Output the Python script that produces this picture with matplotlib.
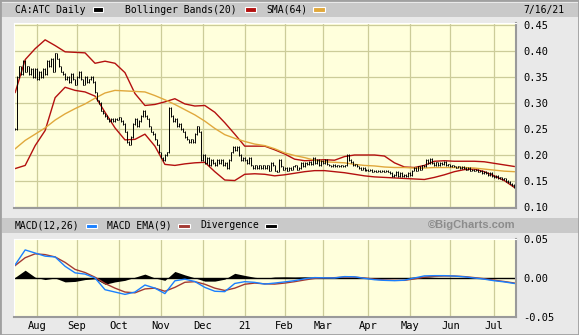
import numpy as np
import pandas as pd
import matplotlib
matplotlib.use('Agg')
import matplotlib.pyplot as plt
from matplotlib.patches import Rectangle

plt.rcParams['axes.unicode_minus'] = False

# trading days (TSX holidays removed)
holidays = ['2020-08-03', '2020-09-07', '2020-10-12', '2020-12-25', '2020-12-28',
            '2021-01-01', '2021-02-15', '2021-04-02', '2021-05-24', '2021-07-01']
dates = pd.bdate_range('2020-07-17', '2021-07-16')
dates = dates[~dates.isin(pd.to_datetime(holidays))]

# daily close
close = [
    0.25, 0.35, 0.37, 0.355, 0.38, 0.36, 0.37, 0.355, 0.365, 0.35,
    0.365, 0.345, 0.36, 0.35, 0.365, 0.355, 0.38, 0.37, 0.385, 0.36,
    0.395, 0.385, 0.37, 0.36, 0.355, 0.345, 0.35, 0.34, 0.355, 0.345,
    0.335, 0.35, 0.36, 0.345, 0.335, 0.35, 0.34, 0.345, 0.35, 0.34,
    0.32, 0.305, 0.30, 0.285, 0.28, 0.275, 0.27, 0.265, 0.27, 0.265,
    0.27, 0.268, 0.272, 0.265, 0.26, 0.245, 0.225, 0.22, 0.235, 0.26,
    0.27, 0.255, 0.265, 0.275, 0.285, 0.275, 0.27, 0.255, 0.245, 0.24,
    0.23, 0.22, 0.205, 0.195, 0.19, 0.2, 0.205, 0.29, 0.275, 0.265,
    0.27, 0.255, 0.26, 0.25, 0.245, 0.235, 0.23, 0.225, 0.23, 0.225,
    0.24, 0.255, 0.245, 0.19, 0.2, 0.185, 0.195, 0.18, 0.19, 0.185,
    0.18, 0.19, 0.185, 0.19, 0.18, 0.185, 0.175, 0.19, 0.205, 0.215,
    0.21, 0.215, 0.2, 0.19, 0.195, 0.19, 0.185, 0.195, 0.18, 0.175,
    0.18, 0.175, 0.18, 0.175, 0.18, 0.175, 0.18, 0.17, 0.185, 0.18,
    0.17, 0.168, 0.19, 0.178, 0.172, 0.175, 0.17, 0.175, 0.172, 0.178,
    0.18, 0.172, 0.175, 0.185, 0.178, 0.185, 0.182, 0.187, 0.183, 0.195,
    0.185, 0.19, 0.18, 0.188, 0.185, 0.19, 0.182, 0.18, 0.178, 0.181,
    0.178, 0.18, 0.178, 0.18, 0.178, 0.18, 0.2, 0.19, 0.187, 0.18,
    0.182, 0.178, 0.175, 0.172, 0.175, 0.17, 0.172, 0.17, 0.172, 0.168,
    0.17, 0.168, 0.17, 0.168, 0.17, 0.168, 0.17, 0.168, 0.165, 0.16,
    0.162, 0.168, 0.16, 0.165, 0.16, 0.162, 0.16, 0.165, 0.162, 0.17,
    0.175, 0.17, 0.178, 0.172, 0.18, 0.178, 0.19, 0.185, 0.193, 0.185,
    0.18, 0.186, 0.18, 0.185, 0.182, 0.187, 0.18, 0.182, 0.178, 0.18,
    0.178, 0.176, 0.178, 0.175, 0.177, 0.175, 0.172, 0.175, 0.17, 0.172,
    0.17, 0.172, 0.168, 0.17, 0.165, 0.168, 0.165, 0.162, 0.165, 0.16,
    0.158, 0.16, 0.155, 0.157, 0.153, 0.155, 0.15, 0.148, 0.145, 0.142,
    0.138,
]

# indicator values read every 5th trading day
bb_upper = [0.32, 0.383, 0.404, 0.421, 0.41, 0.398, 0.397, 0.396, 0.376, 0.38,
            0.376, 0.358, 0.318, 0.295, 0.297, 0.302, 0.308, 0.298, 0.294, 0.295,
            0.282, 0.262, 0.24, 0.217, 0.217, 0.217, 0.21, 0.202, 0.192, 0.189,
            0.19, 0.191, 0.19, 0.197, 0.2, 0.2, 0.2, 0.198, 0.185, 0.177,
            0.176, 0.18, 0.188, 0.189, 0.188, 0.188, 0.188, 0.187, 0.184, 0.181,
            0.178]
bb_lower = [0.174, 0.18, 0.218, 0.247, 0.31, 0.33, 0.324, 0.321, 0.313, 0.282,
            0.252, 0.229, 0.23, 0.24, 0.217, 0.182, 0.18, 0.183, 0.185, 0.186,
            0.168, 0.152, 0.151, 0.163, 0.164, 0.163, 0.16, 0.162, 0.165, 0.168,
            0.17, 0.17, 0.168, 0.166, 0.163, 0.16, 0.158, 0.157, 0.156, 0.155,
            0.154, 0.153, 0.157, 0.162, 0.168, 0.172, 0.173, 0.168, 0.16, 0.151,
            0.138]
sma64 = [0.212, 0.228, 0.24, 0.252, 0.267, 0.279, 0.289, 0.298, 0.309, 0.319,
         0.324, 0.323, 0.322, 0.321, 0.314, 0.306, 0.297, 0.287, 0.277, 0.265,
         0.251, 0.239, 0.232, 0.226, 0.221, 0.218, 0.212, 0.204, 0.199, 0.195,
         0.19, 0.187, 0.186, 0.185, 0.182, 0.18, 0.179, 0.177, 0.176, 0.176,
         0.175, 0.175, 0.176, 0.176, 0.176, 0.176, 0.175, 0.173, 0.171, 0.169,
         0.168]
macd = [0.017, 0.036, 0.032, 0.028, 0.027, 0.015, 0.0066, 0.005, 0.0, -0.015,
        -0.018, -0.021, -0.018, -0.009, -0.013, -0.02, -0.0036, -0.0015, -0.0045, -0.012,
        -0.017, -0.0175, -0.007, -0.0047, -0.0056, -0.0078, -0.0065, -0.005, -0.0034, -0.001,
        0.0005, 0.0002, 0.0, 0.0018, 0.0015, -0.0005, -0.0022, -0.003, -0.0034, -0.0028,
        0.0, 0.0027, 0.003, 0.003, 0.0025, 0.0015, 0.0, -0.0015, -0.0035, -0.005,
        -0.007]
macd_ema = [0.016, 0.026, 0.031, 0.03, 0.027, 0.02, 0.011, 0.007, 0.001, -0.007,
            -0.013, -0.018, -0.019, -0.014, -0.013, -0.017, -0.012, -0.0055, -0.0047, -0.008,
            -0.013, -0.016, -0.013, -0.008, -0.0065, -0.0075, -0.0078, -0.0065, -0.0047, -0.0025,
            -0.0005, 0.0002, 0.0004, 0.0012, 0.0011, 0.0, -0.0015, -0.0025, -0.003, -0.003,
            -0.0012, 0.0012, 0.0022, 0.0026, 0.0025, 0.0018, 0.0005, -0.001, -0.0028, -0.0045,
            -0.0064]

W, H = 579, 335
def fx(px):
    return px / W
def fy(py):
    return 1 - py / H

mono = 'DejaVu Sans Mono'
grid_c = '#cccc99'
bg = '#ffffdc'
red = '#b3100f'
gold = '#e0a83c'
blue = '#1a80ff'
brown = '#a33a33'

x = np.arange(len(dates))
xs = x[::5]
close = np.array(close)
diverg = np.array(macd) - np.array(macd_ema)

month_pos = [i for i in range(1, len(dates)) if dates[i].month != dates[i - 1].month]
month_lab = [dates[i].strftime('%y') if dates[i].month == 1 else dates[i].strftime('%b')
             for i in month_pos]

fig = plt.figure(figsize=(W / 100, H / 100), dpi=100, facecolor='#e9e9e9')
fig.patches.append(Rectangle((0, fy(16.7)), 1, 13.4 / H, transform=fig.transFigure,
                             facecolor='#c9c9c9', edgecolor='none', zorder=0))
fig.patches.append(Rectangle((fx(2), fy(233)), 1, 15 / H, transform=fig.transFigure,
                             facecolor='#c9c9c9', edgecolor='none', zorder=0))
fig.patches.append(Rectangle((0, 0), 1, 1, transform=fig.transFigure, fill=False,
                             edgecolor='#a0a0a0', lw=2, zorder=0))

ax = fig.add_axes([fx(14), fy(208), 502 / W, 185 / H])
ax2 = fig.add_axes([fx(14), fy(317), 502 / W, 78 / H])

for a in (ax, ax2):
    a.set_facecolor(bg)
    a.set_xlim(-0.6, len(dates) - 0.1)
    a.set_xticks(month_pos)
    a.yaxis.tick_right()
    a.tick_params(length=0, labelsize=7.5, pad=5)
    a.spines['left'].set_color('white')
    a.spines['top'].set_color('white')
    a.spines['bottom'].set_color('#9a9a9a')
    a.spines['right'].set_color('#9a9a9a')
    a.spines['bottom'].set_linewidth(1.5)
    a.spines['right'].set_linewidth(1.5)
    a.set_axisbelow(True)

# price panel
ax.set_ylim(0.0983, 0.4533)
ax.set_yticks(np.arange(0.10, 0.451, 0.05))
ax.yaxis.set_major_formatter(plt.FormatStrFormatter('%.2f'))
ax.set_xticklabels([])
ax.grid(True, color=grid_c, lw=0.9)
ax.plot(xs, bb_upper, color=red, lw=1.0)
ax.plot(xs, bb_lower, color=red, lw=1.0)
ax.plot(xs, sma64, color=gold, lw=1.0)
prev = np.r_[close[0], close[:-1]]
lo = np.minimum(prev, close) - 0.0015
hi = np.maximum(prev, close) + 0.0015
ax.vlines(x, lo, hi, color='black', lw=0.7)
ax.hlines(close, x, x + 0.5, color='black', lw=0.7)

# MACD panel
ax2.set_ylim(-0.05, 0.05)
ax2.set_yticks([-0.05, 0.0, 0.05])
ax2.yaxis.set_major_formatter(plt.FormatStrFormatter('%.2f'))
ax2.set_xticklabels(month_lab)
ax2.tick_params(axis='x', pad=3)
ax2.grid(True, axis='x', color=grid_c, lw=0.9)
ax2.fill_between(xs, 0, diverg, color='black', lw=0)
ax2.axhline(0, color='black', lw=1.0)
ax2.plot(xs, macd_ema, color=brown, lw=1.0)
ax2.plot(xs, macd, color=blue, lw=1.0)
for lab in ax2.get_xticklabels() + ax2.get_yticklabels() + ax.get_yticklabels():
    lab.set_family(mono)

# header legends
def swatch(x0, x1, y0, y1, c):
    fig.patches.append(Rectangle((fx(x0), fy(y1)), (x1 - x0) / W, (y1 - y0) / H,
                                 transform=fig.transFigure, facecolor=c,
                                 edgecolor='white', lw=0.8))

fs = 7
fig.text(fx(15), fy(10), 'CA:ATC Daily', family=mono, size=fs, va='center')
swatch(93, 103, 7.5, 11.5, 'black')
fig.text(fx(125), fy(10), 'Bollinger Bands(20)', family=mono, size=fs, va='center')
swatch(245, 256, 7.5, 11.5, red)
fig.text(fx(266), fy(10), 'SMA(64)', family=mono, size=fs, va='center')
swatch(313, 325, 7.5, 11.5, gold)
fig.text(fx(523), fy(10), '7/16/21', family=mono, size=fs, va='center')

fig.text(fx(15), fy(225.5), 'MACD(12,26)', family=mono, size=fs, va='center')
swatch(86, 97, 223.5, 227.5, blue)
fig.text(fx(107), fy(225.5), 'MACD EMA(9)', family=mono, size=fs, va='center')
swatch(178, 190, 223.5, 227.5, brown)
fig.text(fx(200), fy(225.5), 'Divergence', family=mono, size=fs, va='center')
swatch(265, 277, 223.5, 227.5, 'black')
fig.text(fx(516), fy(225.5), '©BigCharts.com', family='Liberation Sans', weight='bold',
         size=8, color='#8c8c8c', va='center', ha='right')

fig.savefig('out.png', dpi=100, facecolor=fig.get_facecolor())
